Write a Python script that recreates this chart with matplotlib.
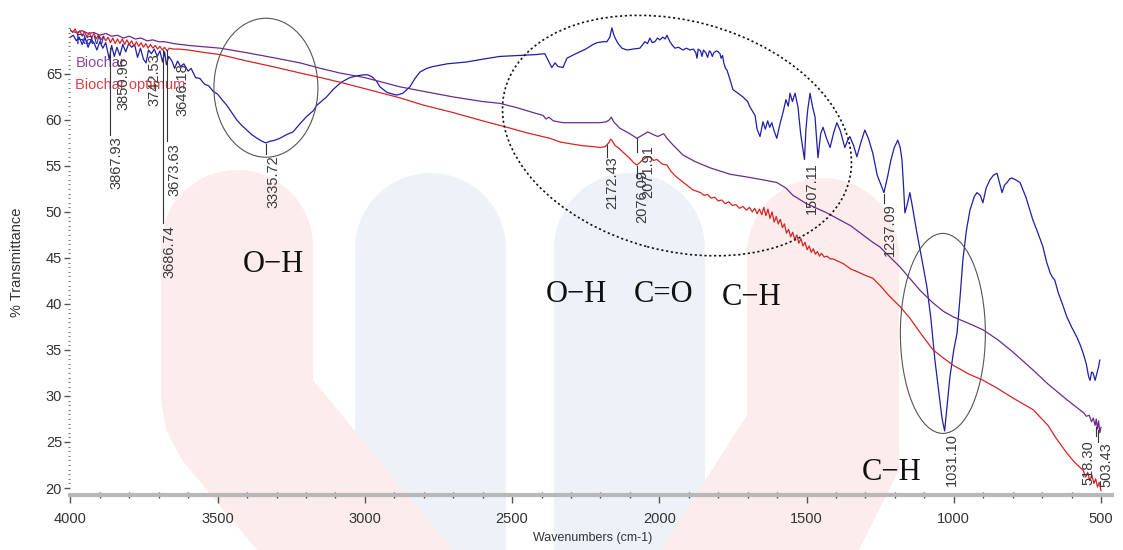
import numpy as np
import matplotlib
matplotlib.use("Agg")
import matplotlib.pyplot as plt
from matplotlib import font_manager as fm
from matplotlib.patches import Ellipse, Polygon
from matplotlib.transforms import Affine2D, IdentityTransform

# ---------------- data ----------------
RAW = [(4000,69.0),(3990,69.2),(3980,68.6),(3970,69.0),(3960,68.2),(3950,68.9),(3940,67.9),(3930,68.7),(3920,68.4),(3910,67.6),(3900,68.5),(3890,67.8),(3880,68.4),(3868,66.6),(3860,68.1),(3851,66.9),(3842,67.9),(3832,67.0),(3822,68.2),(3812,67.4),(3802,68.3),(3792,67.9),(3782,68.2),(3772,66.8),(3762,67.8),(3752,66.6),(3743,66.2),(3735,67.6),(3725,67.2),(3715,67.7),(3705,66.9),(3696,67.5),(3687,66.3),(3680,67.4),(3674,66.0),(3666,66.9),(3655,66.4),(3646,65.6),(3636,66.4),(3626,65.8),(3615,66.1),(3600,65.3),(3590,65.6),(3575,64.6),(3560,64.5),(3545,63.9),(3530,63.7),(3515,63.1),(3500,62.8),(3485,62.2),(3469,61.6),(3452,60.8),(3435,60.0),(3418,59.4),(3401,58.9),(3384,58.4),(3366,58.0),(3350,57.7),(3336,57.5),(3320,57.7),(3305,57.8),(3289,58.0),(3266,58.4),(3244,58.7),(3220,59.6),(3197,60.4),(3175,61.0),(3163,61.6),(3130,62.5),(3108,63.3),(3080,64.1),(3051,64.6),(3025,64.8),(3006,64.9),(2990,64.9),(2976,64.7),(2960,64.2),(2949,63.6),(2925,63.0),(2905,62.8),(2891,62.7),(2871,62.9),(2847,63.6),(2830,64.5),(2813,65.2),(2790,65.6),(2769,65.8),(2720,66.1),(2654,66.3),(2600,66.6),(2542,66.9),(2480,67.0),(2420,67.1),(2389,67.2),(2378,66.5),(2365,65.7),(2354,66.2),(2344,65.8),(2327,65.7),(2314,66.7),(2290,67.1),(2270,67.4),(2250,67.7),(2225,68.2),(2211,68.4),(2191,68.5),(2178,68.5),(2168,69.0),(2161,70.0),(2155,69.3),(2150,68.9),(2140,68.3),(2127,67.8),(2110,67.6),(2090,67.7),(2066,67.8),(2056,68.2),(2049,68.5),(2040,68.3),(2032,68.9),(2024,68.4),(2015,68.5),(2006,68.9),(1998,68.7),(1988,69.0),(1980,68.8),(1974,69.2),(1964,68.5),(1955,68.1),(1947,67.8),(1935,67.9),(1920,67.6),(1908,67.8),(1896,67.6),(1884,67.7),(1876,67.3),(1872,66.7),(1868,67.7),(1860,67.5),(1855,66.9),(1850,67.6),(1842,67.3),(1836,66.8),(1830,67.5),(1826,67.4),(1820,66.9),(1815,67.3),(1806,67.5),(1800,67.4),(1794,67.2),(1790,66.7),(1785,67.0),(1781,66.2),(1775,65.6),(1770,65.4),(1760,64.4),(1750,63.3),(1737,63.0),(1716,62.5),(1700,62.0),(1692,61.4),(1675,60.5),(1668,59.0),(1658,58.2),(1648,59.8),(1640,59.0),(1632,59.9),(1625,59.2),(1618,59.7),(1610,58.8),(1601,58.0),(1590,59.6),(1580,60.8),(1570,62.2),(1562,61.5),(1556,62.9),(1548,62.0),(1539,62.9),(1529,61.4),(1520,58.5),(1507,55.7),(1502,59.0),(1496,61.1),(1488,62.9),(1480,61.5),(1471,60.3),(1466,58.0),(1461,55.9),(1452,58.5),(1444,59.2),(1432,58.0),(1420,57.0),(1408,58.6),(1397,59.7),(1385,58.8),(1370,57.0),(1360,57.8),(1353,58.2),(1340,57.2),(1329,56.0),(1315,57.6),(1302,58.9),(1290,58.0),(1275,56.4),(1260,54.0),(1237,52.1),(1225,53.8),(1213,55.7),(1202,57.0),(1190,57.8),(1182,57.0),(1176,55.7),(1170,52.5),(1166,49.9),(1158,50.8),(1149,52.1),(1140,50.5),(1125,47.7),(1108,44.8),(1091,41.8),(1078,38.5),(1064,33.9),(1050,30.2),(1040,27.6),(1031,26.2),(1022,29.2),(1013,32.1),(1000,35.0),(989,36.8),(978,41.0),(969,44.8),(957,48.0),(945,50.2),(930,51.7),(921,52.1),(910,51.8),(901,51.0),(890,52.6),(877,53.5),(865,54.0),(853,54.2),(844,53.1),(836,52.1),(828,52.9),(819,53.2),(810,53.6),(803,53.7),(790,53.5),(775,53.2),(755,51.6),(731,49.1),(714,47.7),(697,46.2),(685,44.6),(673,43.4),(665,42.9),(657,42.6),(645,41.2),(630,39.9),(616,38.6),(600,37.5),(582,36.4),(570,35.5),(561,34.7),(550,33.5),(542,32.1),(537,31.7),(532,32.6),(527,32.5),(520,31.7),(513,32.6),(508,33.2),(504,33.9)]

BIOCHAR = [(4000,69.7),(3980,69.5),(3960,69.7),(3940,69.4),(3920,69.5),(3900,69.2),(3880,69.4),(3860,69.1),(3840,69.2),(3820,68.9),(3800,69.1),(3780,68.8),(3760,68.9),(3740,68.6),(3720,68.7),(3700,68.5),(3680,68.5),(3650,68.3),(3600,68.1),(3492,67.8),(3400,67.3),(3300,66.7),(3220,66.2),(3150,65.6),(3085,65.1),(3000,64.6),(2881,63.6),(2800,63.1),(2700,62.5),(2600,62.0),(2541,61.8),(2480,61.3),(2429,60.8),(2395,60.5),(2385,60.1),(2375,60.3),(2360,59.9),(2327,59.7),(2300,59.7),(2260,59.7),(2225,59.7),(2200,59.7),(2180,59.8),(2170,60.0),(2163,60.3),(2155,59.8),(2134,59.1),(2100,58.5),(2076,58.0),(2060,58.3),(2039,58.7),(2020,58.4),(2005,58.2),(1992,58.4),(1985,58.5),(1974,58.0),(1954,57.3),(1920,56.2),(1880,55.5),(1828,54.8),(1760,54.1),(1702,53.8),(1650,53.5),(1601,53.2),(1570,52.6),(1546,51.8),(1500,50.9),(1431,49.9),(1350,48.5),(1275,46.7),(1251,46.2),(1182,44.0),(1115,41.5),(1070,40.1),(1035,39.2),(1002,38.6),(950,37.9),(901,37.2),(850,36.1),(800,34.8),(730,32.8),(680,31.3),(616,29.6),(580,28.7),(560,28.2),(550,27.8),(540,27.9),(532,27.2),(526,27.6),(520,26.8),(516,27.5),(512,26.4),(508,27.3),(504,26.0),(500,26.6)]

BIOCHAR_OPT = [(4000,69.8),(3992,69.5),(3984,69.9),(3976,69.3),(3968,69.7),(3960,69.1),(3952,69.6),(3944,69.0),(3936,69.5),(3928,68.9),(3920,69.4),(3912,68.8),(3904,69.3),(3896,68.7),(3888,69.1),(3880,68.6),(3872,69.0),(3864,68.4),(3856,68.9),(3848,68.3),(3840,68.8),(3832,68.3),(3824,68.8),(3816,68.2),(3808,68.7),(3800,68.2),(3792,68.6),(3784,68.0),(3776,68.5),(3768,68.0),(3760,68.4),(3752,67.9),(3744,68.3),(3736,67.8),(3728,68.2),(3720,67.8),(3712,68.1),(3704,67.7),(3696,68.0),(3688,67.6),(3680,67.9),(3672,67.5),(3664,67.8),(3650,67.7),(3630,67.7),(3600,67.6),(3560,67.4),(3492,67.1),(3400,66.4),(3300,65.7),(3220,65.1),(3150,64.6),(3085,64.1),(3000,63.4),(2881,62.4),(2800,61.6),(2700,60.8),(2600,59.9),(2517,59.2),(2450,58.6),(2371,58.0),(2337,57.6),(2300,57.4),(2260,57.2),(2225,57.1),(2200,57.0),(2184,57.1),(2172,57.5),(2165,57.9),(2161,57.8),(2150,57.2),(2140,57.0),(2120,56.4),(2100,55.8),(2085,55.3),(2076,55.1),(2065,55.4),(2055,55.7),(2040,56.0),(2031,56.0),(2020,55.6),(2008,55.7),(1990,55.2),(1974,55.1),(1960,54.4),(1945,53.9),(1930,53.5),(1910,53.0),(1886,52.4),(1860,52.1),(1848,51.8),(1836,51.9),(1824,51.5),(1812,51.6),(1800,51.2),(1788,51.3),(1776,50.9),(1764,51.1),(1752,50.7),(1740,50.8),(1728,50.4),(1716,50.6),(1704,50.2),(1694,50.5),(1684,50.0),(1676,50.4),(1668,49.8),(1660,50.3),(1652,49.7),(1645,50.5),(1638,49.6),(1631,50.3),(1624,49.3),(1617,50.0),(1610,48.9),(1603,49.5),(1596,48.7),(1589,49.2),(1582,48.3),(1575,48.7),(1568,47.7),(1561,48.1),(1554,47.3),(1547,47.8),(1540,47.0),(1533,47.5),(1526,46.6),(1519,47.1),(1512,46.3),(1505,46.7),(1498,45.9),(1491,46.3),(1484,45.6),(1477,46.0),(1470,45.4),(1463,45.7),(1456,45.2),(1449,45.5),(1440,45.1),(1430,45.2),(1420,44.9),(1410,44.9),(1397,44.7),(1376,44.4),(1350,43.8),(1320,43.4),(1300,43.1),(1275,42.8),(1250,42.0),(1220,40.9),(1182,39.7),(1150,38.5),(1110,36.7),(1070,35.0),(1030,34.0),(1000,33.3),(950,32.4),(900,31.7),(850,30.8),(800,29.8),(730,28.5),(680,26.8),(650,25.3),(616,23.8),(590,22.8),(570,22.2),(560,21.9),(552,21.2),(545,21.7),(538,20.8),(531,21.4),(524,20.5),(518,21.0),(512,20.1),(506,20.6),(500,19.7)]

SERIES_NAMES = ["Raw", "Biochar", "Biochar optimum"]
PEAK_LABELS = ["3867.93", "3850.96", "3742.53", "3686.74", "3673.63", "3646.18", "3335.72",
               "2172.43", "2076.09", "2071.91", "1507.11", "1237.09", "1031.10", "518.30", "503.43"]
BOND_LABELS = ["O\u2212H", "O\u2212H", "C=O", "C\u2212H", "C\u2212H"]
X_TICKS = [4000, 3500, 3000, 2500, 2000, 1500, 1000, 500]
Y_TICKS = [20, 25, 30, 35, 40, 45, 50, 55, 60, 65]

# ---------------- fonts ----------------
def has_font(name):
    try:
        fm.findfont(fm.FontProperties(family=name), fallback_to_default=False)
        return True
    except Exception:
        return False

NARROW = "Liberation Sans Narrow" if has_font("Liberation Sans Narrow") else "Liberation Sans"
SANS = "Liberation Sans"
SERIF = ["Liberation Serif", "DejaVu Serif"]

W, H = 1123, 550
fig = plt.figure(figsize=(W / 100, H / 100), dpi=100)
fig.patch.set_facecolor("white")

# background watermark shapes (figure pixel coordinates, top-left origin)
tl = Affine2D().scale(1, -1).translate(0, H) + IdentityTransform()

def pillar(x0, x1, top, bottom):
    r = (x1 - x0) / 2
    cx = x0 + r
    ang = np.linspace(np.pi, 0, 40)
    return [(x0, bottom)] + [(cx + r * np.cos(a), top + r - r * np.sin(a)) for a in ang] + [(x1, bottom)]

BLUE_BG = "#edf2f8"
PINK_BG = "#fcecec"
for (x0, x1) in [(355, 506), (554, 705)]:
    fig.add_artist(Polygon(pillar(x0, x1, 173, H), closed=True, transform=tl,
                           facecolor=BLUE_BG, edgecolor="none", zorder=-5))
left_pink = pillar(161, 313, 170, 380)[1:-1] + [(313, 380), (453, H), (257, H), (182, 460), (166, 430), (161, 400)]
fig.add_artist(Polygon(left_pink, closed=True, transform=tl, facecolor=PINK_BG,
                       edgecolor="none", zorder=-4))
right_pink = pillar(747, 899, 178, 400)[1:-1] + [(899, 470), (859, H), (661, H), (747, 415)]
fig.add_artist(Polygon(right_pink, closed=True, transform=tl, facecolor=PINK_BG,
                       edgecolor="none", zorder=-4))

# ---------------- axes ----------------
ax_left, ax_right, ax_top, ax_bottom = 70.4, 1112, 27, 495
ax = fig.add_axes([ax_left / W, 1 - ax_bottom / H, (ax_right - ax_left) / W, (ax_bottom - ax_top) / H])
ax.set_facecolor("none")
ax.set_xlim(4000, 462.6)
ax.set_ylim(19.24, 70.1)

colors = ["#1e1ea8", "#6b2b8e", "#d42424"]
label_colors = ["#2a2ab0", "#8a4a9e", "#d84048"]
for data, c in zip([RAW, BIOCHAR, BIOCHAR_OPT], colors):
    arr = np.array(data)
    ax.plot(arr[:, 0], arr[:, 1], color=c, lw=0.9, zorder=3)

# spines / ticks
for s in ["top", "right", "left"]:
    ax.spines[s].set_visible(False)
ax.spines["bottom"].set_color("#b8b8b8")
ax.spines["bottom"].set_linewidth(3)
ax.set_xticks(X_TICKS)
ax.set_xticks(np.arange(4000, 462, -100), minor=True)
ax.set_yticks(Y_TICKS)
ax.set_yticks(np.arange(20, 70.01, 0.5), minor=True)
ax.tick_params(axis="x", which="major", direction="out", length=6, width=1, color="#555555",
               pad=6, labelsize=10.5, labelcolor="#333333")
ax.tick_params(axis="x", which="minor", direction="inout", length=4, width=1, color="#444444")
ax.tick_params(axis="y", which="major", direction="out", length=4, width=1, color="#555555",
               pad=2, labelsize=10.5, labelcolor="#333333")
ax.tick_params(axis="y", which="minor", direction="out", length=1.5, width=0.8, color="#777777")
for lab in ax.get_xticklabels() + ax.get_yticklabels():
    lab.set_family(NARROW)

fig.text(17 / W, 1 - 262 / H, "% Transmittance", rotation=90, ha="center", va="center",
         family=SANS, fontsize=10.5, color="#333333")
fig.text(593 / W, 1 - 538 / H, "Wavenumbers (cm-1)", ha="center", va="center",
         family=NARROW, fontsize=9, color="#333333")

# legend-like series labels
for name, c, yv in zip(SERIES_NAMES, label_colors, [68.7, 66.2, 63.8]):
    ax.text(3983, yv, name, color=c, family=NARROW, fontsize=10.5, ha="left", va="center", zorder=4)

# peak labels: (text position wn, top value), leader (wn, from, to)
peak_pos = [(3842, 58.2), (3821, 66.8), (3713, 67.3), (3662, 48.6), (3645, 57.5), (3618, 66.2),
            (3312, 56.2), (2161, 56.0), (2059, 54.6), (2038, 57.3), (1481, 55.4), (1217, 51.0),
            (1006, 26.0), (544, 25.2), (480, 25.0)]
leaders = [(3866, 67.8, 58.4), (3686, 67.6, 48.8), (3673, 67.6, 57.7), (3336, 57.4, 56.3),
           (2177, 57.3, 56.0), (2076, 58.0, 56.5), (2076, 55.0, 53.8), (1237, 52.0, 51.0),
           (518, 26.6, 25.6), (510, 26.3, 25.0)]
for (wx, y0, y1) in leaders:
    ax.plot([wx, wx], [y0, y1], color="#333333", lw=0.8, zorder=4)
for lab, (wx, yt) in zip(PEAK_LABELS, peak_pos):
    ax.text(wx, yt, lab, rotation=90, ha="center", va="top", family=SANS, fontsize=10.5,
            color="#3a3a3a", zorder=5)

# bond labels
bond_pos = [(3309, 43.5), (2283, 40.2), (1985, 40.2), (1685, 39.9), (1210, 20.9)]
for lab, (wx, yb) in zip(BOND_LABELS, bond_pos):
    ax.text(wx, yb, lab, ha="center", va="baseline", family=SERIF, fontsize=22,
            color="#111111", zorder=5)

# ellipses (centre in data coords, size in pixels)
def add_ellipse(wx, yv, w_px, h_px, angle, ls, lw, col):
    cx, cy = ax.transData.transform((wx, yv))
    e = Ellipse((cx, cy), w_px, h_px, angle=angle, transform=IdentityTransform(),
                facecolor="none", edgecolor=col, lw=lw, linestyle=ls, zorder=6)
    fig.add_artist(e)

add_ellipse(3336, 63.5, 104, 139, 0, "-", 0.8, "#555555")
add_ellipse(1940, 58.3, 356, 230, -15, (0, (1.3, 1.6)), 1.2, "#111111")
add_ellipse(1037, 36.8, 85, 200, 0, "-", 0.8, "#555555")

fig.savefig("out.png", dpi=100, facecolor="white")
